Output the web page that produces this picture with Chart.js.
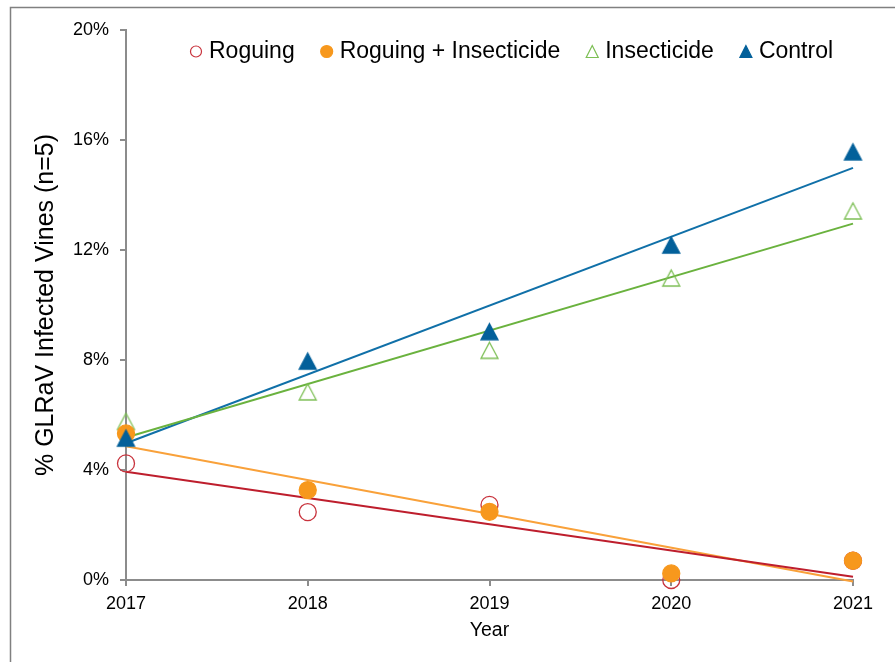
<!DOCTYPE html>
<html>
<head>
<meta charset="utf-8">
<script src="https://cdn.jsdelivr.net/npm/chart.js@4"></script>
<style>
html,body{margin:0;padding:0;background:#fff}
canvas{display:block}
</style>
</head>
<body>
<canvas id="c" width="895" height="662"></canvas>
<script>
// ---- data (values in %) ----
const years = [2017, 2018, 2019, 2020, 2021];
const seriesNames = ['Roguing', 'Roguing + Insecticide', 'Insecticide', 'Control'];
const roguing = [4.24, 2.47, 2.73, 0.0, 0.7];
const roguingInsecticide = [5.33, 3.27, 2.48, 0.24, 0.7];
const insecticide = [5.77, 6.84, 8.35, 10.98, 13.42];
const control = [5.16, 7.96, 9.03, 12.18, 15.57];
const yTicks = [0, 4, 8, 12, 16, 20];
const xTitle = 'Year';
const yTitle = '% GLRaV Infected Vines (n=5)';

// ---- helpers ----
function pts(xs, ys) { return xs.map((x, i) => ({x: x, y: ys[i]})); }
function trend(xs, ys) {
  const n = xs.length;
  const mx = xs.reduce((a, b) => a + b, 0) / n;
  const my = ys.reduce((a, b) => a + b, 0) / n;
  let sxy = 0, sxx = 0;
  for (let i = 0; i < n; i++) { sxy += (xs[i] - mx) * (ys[i] - my); sxx += (xs[i] - mx) ** 2; }
  const b = sxy / sxx, a = my - b * mx;
  return [{x: xs[0], y: a + b * xs[0]}, {x: xs[n - 1], y: a + b * xs[n - 1]}];
}
// triangle marker centred on its bounding box (like a spreadsheet marker)
function triMarker(w, h, fill, stroke, lw) {
  const pad = 2;
  const c = document.createElement('canvas');
  c.width = w + pad * 2; c.height = h + pad * 2;
  const g = c.getContext('2d');
  g.beginPath();
  g.moveTo(pad + w / 2, pad);
  g.lineTo(pad + w, pad + h);
  g.lineTo(pad, pad + h);
  g.closePath();
  g.fillStyle = fill; g.fill();
  g.strokeStyle = stroke; g.lineWidth = lw; g.lineJoin = 'miter'; g.stroke();
  return c;
}

const styles = [
  {style: 'circle', fill: 'rgba(0,0,0,0)', stroke: '#C8323C', line: '#BE1E2D', r: 8.5, lr: 5.5},
  {style: 'circle', fill: '#F7981D', stroke: '#F7981D', line: '#F9A13A', r: 8.5, lr: 6},
  {style: 'triangle', fill: 'rgba(0,0,0,0)', stroke: '#7DBF55', line: '#6AB23E', r: 10.5, lr: 7.5},
  {style: 'triangle', fill: '#03609A', stroke: '#03609A', line: '#1070A8', r: 10.5, lr: 7.5}
];
const seriesData = [roguing, roguingInsecticide, insecticide, control];
const markerOrder = [4, 2, 3, 1];

const datasets = [];
seriesData.forEach((vals, i) => {
  const s = styles[i];
  const ps = s.style === 'triangle' ? triMarker(17, 16, s.fill, s.stroke, 1.3) : 'circle';
  datasets.push({
    label: seriesNames[i],
    data: pts(years, vals),
    showLine: false,
    pointStyle: ps,
    pointRadius: s.r,
    pointHoverRadius: s.r,
    pointBackgroundColor: s.fill,
    pointBorderColor: s.stroke,
    pointBorderWidth: 1.3,
    clip: false,
    order: markerOrder[i]
  });
});
seriesData.forEach((vals, i) => {
  const s = styles[i];
  datasets.push({
    label: seriesNames[i] + ' trend',
    data: trend(years, vals),
    showLine: true,
    pointRadius: 0,
    borderColor: s.line,
    borderWidth: 2,
    fill: false,
    clip: false,
    order: 10 + i
  });
});

Chart.defaults.font.family = '"Liberation Sans", Arial, sans-serif';
Chart.defaults.color = '#000';

const frame = {
  id: 'frame',
  beforeDraw(chart) {
    const ctx = chart.ctx;
    ctx.save();
    ctx.fillStyle = '#fff';
    ctx.fillRect(0, 0, chart.width, chart.height);
    ctx.strokeStyle = '#808080';
    ctx.lineWidth = 1.5;
    ctx.strokeRect(10.5, 7.5, chart.width + 20, chart.height + 20);
    ctx.restore();
  }
};

const legendPlugin = {
  id: 'customLegend',
  afterDraw(chart) {
    const ctx = chart.ctx;
    ctx.save();
    ctx.font = '23px "Liberation Sans", Arial, sans-serif';
    ctx.textBaseline = 'middle';
    ctx.textAlign = 'left';
    const y = 51.5;
    let x = 196;
    seriesNames.forEach((name, i) => {
      const s = styles[i];
      ctx.beginPath();
      if (s.style === 'circle') {
        ctx.arc(x, y, s.lr, 0, Math.PI * 2);
      } else {
        const hw = 6, hh = 6;
        ctx.moveTo(x, y - hh);
        ctx.lineTo(x + hw, y + hh);
        ctx.lineTo(x - hw, y + hh);
        ctx.closePath();
      }
      ctx.fillStyle = s.fill;
      ctx.fill();
      ctx.strokeStyle = s.stroke;
      ctx.lineWidth = 1.2;
      ctx.stroke();
      const tx = x + 13;
      ctx.fillStyle = '#000';
      ctx.fillText(name, tx, y);
      x = tx + ctx.measureText(name).width + 32;
    });
    ctx.restore();
  }
};

const axisColor = '#8c8c8c';

new Chart(document.getElementById('c'), {
  type: 'scatter',
  data: {datasets: datasets},
  options: {
    responsive: false,
    animation: false,
    devicePixelRatio: 1,
    layout: {padding: {top: 30, right: 42, bottom: 0, left: 0}},
    plugins: {legend: {display: false}, tooltip: {enabled: false}},
    events: [],
    scales: {
      x: {
        type: 'linear',
        min: years[0],
        max: years[years.length - 1],
        afterBuildTicks: s => { s.ticks = years.map(v => ({value: v})); },
        afterFit: s => { s.height = 82; },
        ticks: {font: {size: 18}, color: '#000', padding: 7, callback: v => String(v), maxRotation: 0},
        grid: {display: true, drawOnChartArea: false, drawTicks: true, tickLength: 6, color: axisColor, lineWidth: 2},
        border: {display: true, color: axisColor, width: 2},
        title: {display: true, text: xTitle, font: {size: 19.5}, color: '#000', padding: {top: 0, bottom: 20}}
      },
      y: {
        type: 'linear',
        min: yTicks[0],
        max: yTicks[yTicks.length - 1],
        afterBuildTicks: s => { s.ticks = yTicks.map(v => ({value: v})); },
        afterFit: s => { s.width = 126; },
        ticks: {font: {size: 18}, color: '#000', padding: 11, callback: v => v + '%'},
        grid: {display: true, drawOnChartArea: false, drawTicks: true, tickLength: 6, color: axisColor, lineWidth: 2},
        border: {display: true, color: axisColor, width: 2},
        title: {display: true, text: yTitle, font: {size: 25}, color: '#000', padding: {top: 31.5, bottom: 0}}
      }
    }
  },
  plugins: [frame, legendPlugin]
});
</script>
</body>
</html>
